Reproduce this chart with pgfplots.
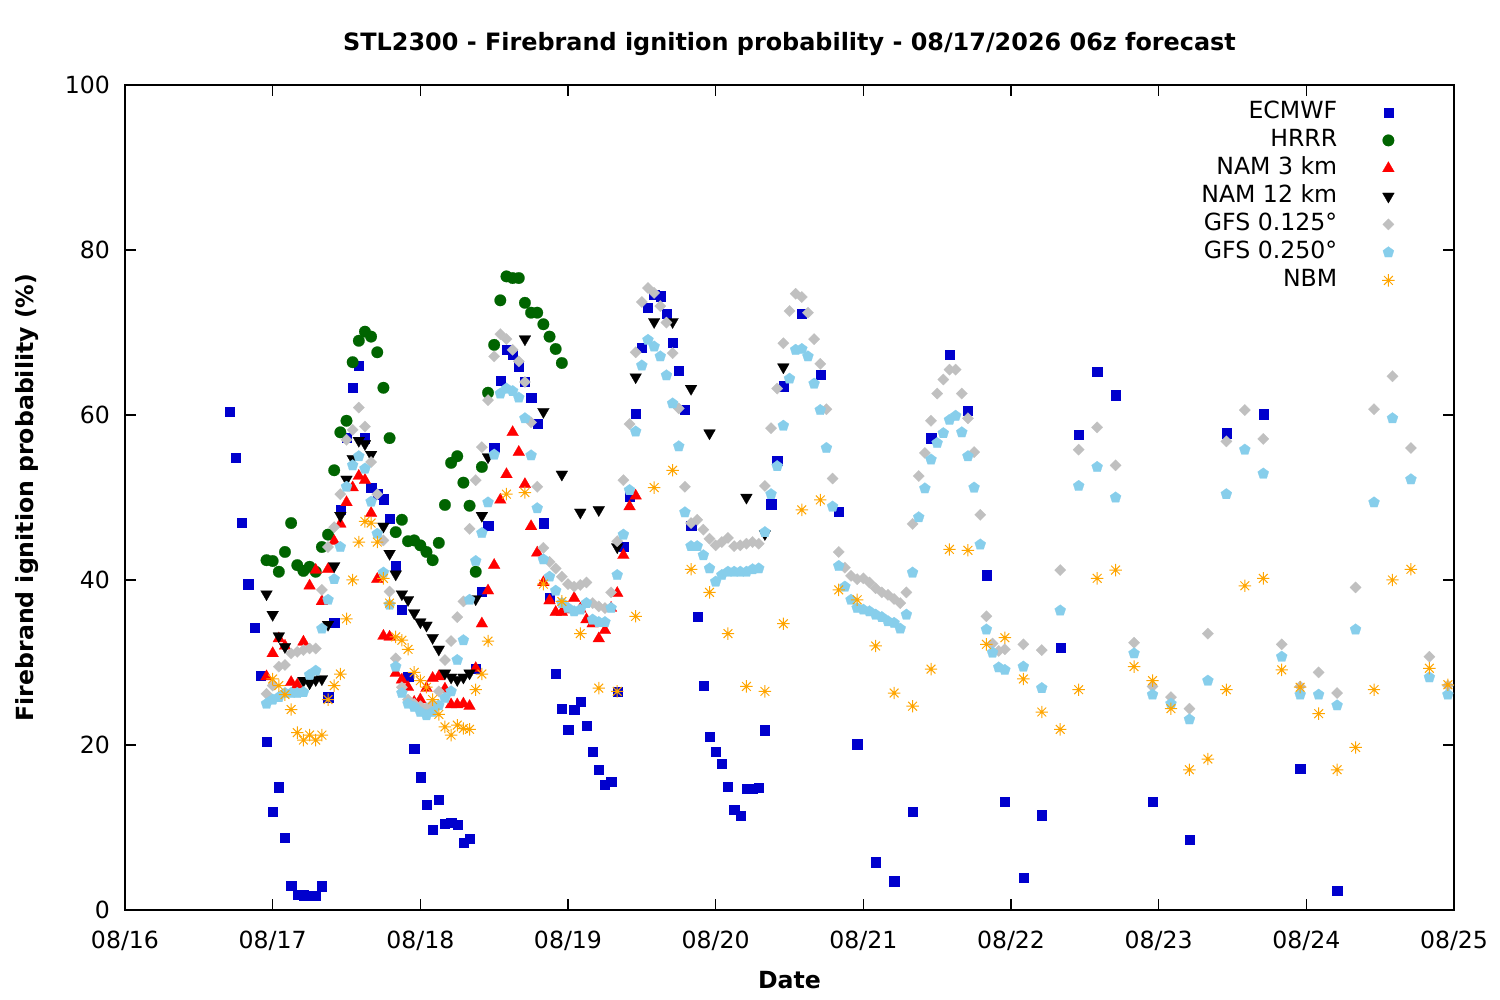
\documentclass[border=0pt]{standalone}
\usepackage{pgfplots}
\pgfplotsset{compat=1.18}
\usepackage{fontspec}
\setmainfont{DejaVu Sans}
\definecolor{ecm}{RGB}{0,0,205}
\definecolor{hrrr}{RGB}{0,100,0}
\definecolor{nam3}{RGB}{255,0,0}
\definecolor{gfsa}{RGB}{192,192,192}
\definecolor{gfsb}{RGB}{135,206,235}
\definecolor{nbm}{RGB}{255,165,0}
\pgfdeclareplotmark{gpstar}{%
  \pgfpathmoveto{\pgfqpoint{-\pgfplotmarksize}{0pt}}\pgfpathlineto{\pgfqpoint{\pgfplotmarksize}{0pt}}%
  \pgfpathmoveto{\pgfqpoint{0pt}{-\pgfplotmarksize}}\pgfpathlineto{\pgfqpoint{0pt}{\pgfplotmarksize}}%
  \pgfpathmoveto{\pgfqpoint{-.707\pgfplotmarksize}{-.707\pgfplotmarksize}}\pgfpathlineto{\pgfqpoint{.707\pgfplotmarksize}{.707\pgfplotmarksize}}%
  \pgfpathmoveto{\pgfqpoint{-.707\pgfplotmarksize}{.707\pgfplotmarksize}}\pgfpathlineto{\pgfqpoint{.707\pgfplotmarksize}{-.707\pgfplotmarksize}}%
  \pgfusepathqstroke}
\begin{document}
\begin{tikzpicture}[font=\fontsize{11.8bp}{14bp}\selectfont]
\begin{axis}[
  at={(0,0)}, anchor=south west, scale only axis,
  width=664.5bp, height=412.5bp,
  xmin=0, xmax=216, ymin=0, ymax=100,
  xtick={0,24,...,216},
  xticklabels={08/16,08/17,08/18,08/19,08/20,08/21,08/22,08/23,08/24,08/25},
  ytick={0,20,...,100},
  /pgf/number format/assume math mode=true,
  tick align=inside, major tick length=5.5bp,
  axis line style={line width=0.6bp},
  every tick/.style={black, line width=0.6bp},
  xticklabel style={yshift=-7bp},
  yticklabel style={xshift=-4bp},
  clip=false,
  title={\fontsize{11.95bp}{14bp}\selectfont\textbf{STL2300 - Firebrand ignition probability - 08/17/2026 06z forecast}},
  title style={at={(axis description cs:0.5,1.0351)}, anchor=center},
  xlabel={\textbf{Date}},
  xlabel style={at={(axis description cs:0.5,-0.0848)}, anchor=center},
  ylabel={\textbf{Firebrand ignition probability (\%)}},
  ylabel style={at={(axis description cs:-0.0737,0.5)}, anchor=center},
  legend style={at={(axis description cs:1,1)}, anchor=north east, xshift=-29.5bp, yshift=-7.5bp,
    draw=none, fill=none, inner sep=0pt, row sep=2bp, column sep=22.5bp,
    nodes={inner sep=0pt, text height=9bp, text depth=3bp, anchor=east}},
  legend plot pos=right,
  legend cell align=right,
]
\addplot[only marks, mark=square*, color=ecm, mark size=2.3bp, mark options={line width=0.1bp}] coordinates {
(17,60.4) (18,54.8) (19,47.0) (20,39.5) (21,34.2) (22,28.4) (23,20.4) (24,11.9) (25,14.9) (26,8.8) (27,3.0) (28,1.9) (29,1.8) (30,1.7) (31,1.7) (32,2.9) (33,25.8) (34,34.8) (35,48.5) (36,57.3) (37,63.3) (38,66.0) (39,57.2) (40,51.2) (41,50.4) (42,49.8) (43,47.4) (44,41.7) (45,36.4) (46,28.3) (47,19.6) (48,16.1) (49,12.8) (50,9.7) (51,13.4) (52,10.5) (53,10.6) (54,10.4) (55,8.2) (56,8.7) (57,29.3) (58,38.6) (59,46.6) (60,56.0) (61,64.2) (62,67.9) (63,67.3) (64,65.9) (65,64.0) (66,62.1) (67,59.0) (68,46.9) (69,37.8) (70,28.7) (71,24.4) (72,21.9) (73,24.3) (74,25.3) (75,22.4) (76,19.2) (77,17.0) (78,15.2) (79,15.6) (80,26.5) (81,44.0) (82,50.1) (83,60.2) (84,68.2) (85,73.0) (86,74.6) (87,74.4) (88,72.3) (89,68.8) (90,65.4) (91,60.7) (92,46.6) (93,35.6) (94,27.2) (95,21.0) (96,19.2) (97,17.7) (98,15.0) (99,12.2) (100,11.4) (101,14.7) (102,14.7) (103,14.8) (104,21.8) (105,49.2) (106,54.5) (107,63.5) (110,72.3) (113,64.9) (116,48.3) (119,20.1) (122,5.8) (125,3.5) (128,11.9) (131,57.2) (134,67.3) (137,60.5) (140,40.6) (143,13.1) (146,3.9) (149,11.5) (152,31.8) (155,57.6) (158,65.3) (161,62.4) (167,13.1) (173,8.5) (179,57.8) (185,60.1) (191,17.1) (197,2.4)
};
\addlegendentry{ECMWF}
\addplot[only marks, mark=*, color=hrrr, mark size=2.9bp, mark options={line width=0.1bp}] coordinates {
(23,42.4) (24,42.3) (25,41.0) (26,43.4) (27,46.9) (28,41.8) (29,41.1) (30,41.6) (31,41.0) (32,44.0) (33,45.5) (34,53.3) (35,57.9) (36,59.3) (37,66.4) (38,69.0) (39,70.1) (40,69.5) (41,67.6) (42,63.3) (43,57.2) (44,45.8) (45,47.3) (46,44.7) (47,44.8) (48,44.2) (49,43.4) (50,42.4) (51,44.5) (52,49.1) (53,54.2) (54,55.0) (55,51.8) (56,49.0) (57,41.0) (58,53.7) (59,62.7) (60,68.5) (61,73.9) (62,76.8) (63,76.6) (64,76.6) (65,73.6) (66,72.4) (67,72.4) (68,71.0) (69,69.5) (70,68.0) (71,66.3)
};
\addlegendentry{HRRR}
\addplot[only marks, mark=triangle*, color=nam3, mark size=3.4bp, mark options={line width=0.1bp}] coordinates {
(23,28.3) (24,31.1) (25,32.9) (26,32.0) (27,27.6) (28,27.3) (29,32.5) (30,39.3) (31,41.2) (32,37.4) (33,41.3) (34,44.7) (35,46.8) (36,49.4) (37,51.2) (38,52.6) (39,52.1) (40,48.1) (41,40.1) (42,33.2) (43,33.1) (44,28.7) (45,27.9) (46,27.0) (47,25.2) (48,25.5) (49,26.9) (50,28.1) (51,28.3) (52,26.8) (53,24.9) (54,24.9) (55,25.0) (56,24.7) (57,29.3) (58,34.7) (59,38.7) (60,41.8) (61,49.7) (62,52.8) (63,57.9) (64,55.5) (65,51.6) (66,46.5) (67,43.3) (68,39.7) (69,37.5) (70,36.1) (71,36.1) (72,36.4) (73,37.8) (74,36.5) (75,35.2) (76,34.7) (77,32.9) (78,33.9) (79,36.6) (80,38.4) (81,43.0) (82,48.9) (83,50.2)
};
\addlegendentry{NAM 3 km}
\addplot[only marks, mark=triangle*, color=black, mark size=3.4bp, mark options={rotate=180, line width=0.1bp}] coordinates {
(23,38.3) (24,35.8) (25,33.2) (26,31.9) (29,27.8) (30,27.5) (31,27.9) (32,28.0) (33,34.6) (34,41.7) (35,47.8) (36,52.2) (37,54.7) (38,56.9) (39,56.5) (40,55.2) (42,46.5) (43,43.2) (44,40.7) (45,38.3) (46,37.6) (47,36.0) (48,34.9) (49,34.5) (50,33.0) (51,31.6) (52,28.7) (53,28.2) (54,27.9) (55,28.2) (56,28.7) (57,37.7) (58,47.8) (59,54.9) (65,69.2) (68,60.4) (71,52.8) (74,48.2) (77,48.5) (80,44.0) (83,64.6) (86,71.3) (89,71.3) (92,63.2) (95,57.8) (101,50.0) (104,45.6) (107,65.8)
};
\addlegendentry{NAM 12 km}
\addplot[only marks, mark=square*, color=gfsa, mark size=2bp, mark options={rotate=45, line width=0.1bp}] coordinates {
(23,26.2) (24,27.2) (25,29.5) (26,29.7) (27,31.1) (28,31.3) (29,31.5) (30,31.7) (31,31.7) (32,38.8) (33,44.0) (34,46.4) (35,50.4) (36,57.0) (37,58.2) (38,60.9) (39,58.6) (40,54.3) (41,50.4) (42,44.8) (43,38.6) (44,30.5) (45,27.0) (46,25.5) (47,25.0) (48,24.7) (49,24.5) (50,25.0) (51,26.5) (52,30.3) (53,32.6) (54,35.5) (55,37.4) (56,46.2) (57,52.1) (58,56.1) (59,61.8) (60,67.1) (61,69.8) (62,69.2) (63,67.9) (64,66.5) (65,64.0) (66,59.1) (67,51.3) (68,43.9) (69,42.2) (70,41.4) (71,40.4) (72,39.5) (73,39.2) (74,39.4) (75,39.7) (76,37.2) (77,36.8) (78,36.6) (79,38.5) (80,44.7) (81,52.1) (82,58.9) (83,67.6) (84,73.7) (85,75.4) (86,74.8) (87,73.2) (88,71.2) (89,67.5) (90,60.8) (91,51.3) (92,46.9) (93,47.3) (94,46.1) (95,45.0) (96,44.2) (97,44.6) (98,45.1) (99,44.1) (100,44.2) (101,44.4) (102,44.6) (103,44.4) (104,51.4) (105,58.4) (106,63.2) (107,68.7) (108,72.6) (109,74.7) (110,74.3) (111,72.4) (112,69.2) (113,66.2) (114,60.7) (115,52.3) (116,43.4) (117,41.5) (118,40.5) (119,40.1) (120,40.2) (121,39.7) (122,39.0) (123,38.5) (124,38.2) (125,37.7) (126,37.2) (127,38.5) (128,46.8) (129,52.6) (130,55.4) (131,59.3) (132,62.6) (133,64.3) (134,65.5) (135,65.5) (136,62.6) (137,59.6) (138,55.5) (139,47.9) (140,35.6) (141,32.3) (142,31.4) (143,31.6) (146,32.2) (149,31.5) (152,41.2) (155,55.8) (158,58.5) (161,53.9) (164,32.4) (167,27.1) (170,25.8) (173,24.4) (176,33.5) (179,56.8) (182,60.6) (185,57.1) (188,32.2) (191,27.1) (194,28.8) (197,26.3) (200,39.1) (203,60.7) (206,64.7) (209,56.0) (212,30.7) (215,27.2)
};
\addlegendentry{GFS 0.125°}
\addplot[only marks, mark=pentagon*, color=gfsb, mark size=2.9bp, mark options={line width=0.1bp}] coordinates {
(23,25.0) (24,25.5) (25,25.8) (26,26.3) (27,26.3) (28,26.3) (29,26.4) (30,28.5) (31,29.0) (32,34.1) (33,37.6) (34,40.1) (35,44.0) (36,51.3) (37,53.9) (38,55.0) (39,53.5) (40,49.5) (41,45.6) (42,40.9) (43,37.0) (44,29.5) (45,26.3) (46,25.0) (47,24.6) (48,24.0) (49,23.6) (50,24.0) (51,24.8) (52,25.7) (53,26.5) (54,30.3) (55,32.7) (56,37.6) (57,42.3) (58,45.7) (59,49.4) (60,55.2) (61,62.6) (62,63.2) (63,62.9) (64,62.1) (65,59.6) (66,55.1) (67,48.7) (68,42.5) (69,40.4) (70,38.7) (71,37.2) (72,36.6) (73,36.2) (74,36.4) (75,37.2) (76,35.2) (77,34.9) (78,34.9) (79,36.6) (80,40.6) (81,45.5) (82,50.9) (83,58.0) (84,66.0) (85,69.1) (86,68.3) (87,67.1) (88,64.8) (89,61.4) (90,56.2) (91,48.2) (92,44.1) (93,44.1) (94,43.0) (95,41.4) (96,39.8) (97,40.6) (98,41.0) (99,41.0) (100,41.0) (101,41.0) (102,41.3) (103,41.4) (104,45.8) (105,50.4) (106,53.8) (107,58.7) (108,64.4) (109,67.9) (110,68.0) (111,67.1) (112,63.8) (113,60.6) (114,56.0) (115,48.9) (116,41.7) (117,39.2) (118,37.6) (119,36.6) (120,36.4) (121,36.2) (122,35.8) (123,35.5) (124,35.0) (125,34.8) (126,34.1) (127,35.8) (128,40.9) (129,47.6) (130,51.1) (131,54.6) (132,56.6) (133,57.8) (134,59.4) (135,59.9) (136,57.9) (137,55.0) (138,51.2) (139,44.3) (140,34.0) (141,31.2) (142,29.4) (143,29.1) (146,29.5) (149,26.9) (152,36.3) (155,51.4) (158,53.7) (161,50.0) (164,31.1) (167,26.1) (170,25.0) (173,23.1) (176,27.8) (179,50.4) (182,55.8) (185,52.9) (188,30.7) (191,26.1) (194,26.1) (197,24.8) (200,34.0) (203,49.4) (206,59.6) (209,52.2) (212,28.2) (215,26.1)
};
\addlegendentry{GFS 0.250°}
\addplot[only marks, mark=gpstar, color=nbm, mark size=3.1bp, mark options={line width=0.5bp}] coordinates {
(24,28.0) (25,27.2) (26,26.1) (27,24.3) (28,21.5) (29,20.6) (30,21.2) (31,20.6) (32,21.2) (33,25.5) (34,27.2) (35,28.6) (36,35.3) (37,40.0) (38,44.6) (39,47.1) (40,46.9) (41,44.6) (42,40.2) (43,37.2) (44,33.1) (45,32.7) (46,31.6) (47,28.8) (48,27.8) (49,27.0) (50,25.5) (51,23.7) (52,22.2) (53,21.2) (54,22.4) (55,22.0) (56,21.9) (57,26.7) (58,28.6) (59,32.6) (62,50.4) (65,50.6) (68,39.5) (71,37.4) (74,33.5) (77,26.9) (80,26.5) (83,35.6) (86,51.2) (89,53.3) (92,41.3) (95,38.5) (98,33.5) (101,27.1) (104,26.5) (107,34.7) (110,48.5) (113,49.7) (116,38.8) (119,37.6) (122,32.0) (125,26.3) (128,24.7) (131,29.2) (134,43.7) (137,43.6) (140,32.2) (143,33.0) (146,28.0) (149,24.0) (152,21.9) (155,26.7) (158,40.2) (161,41.2) (164,29.5) (167,27.8) (170,24.4) (173,17.0) (176,18.3) (179,26.7) (182,39.3) (185,40.2) (188,29.1) (191,27.0) (194,23.8) (197,17.0) (200,19.7) (203,26.7) (206,40.0) (209,41.3) (212,29.3) (215,27.3)
};
\addlegendentry{NBM}
\end{axis}
\pgfresetboundingbox
\path (-62.5bp,-45bp) rectangle (687.5bp,455bp);
\end{tikzpicture}
\end{document}
